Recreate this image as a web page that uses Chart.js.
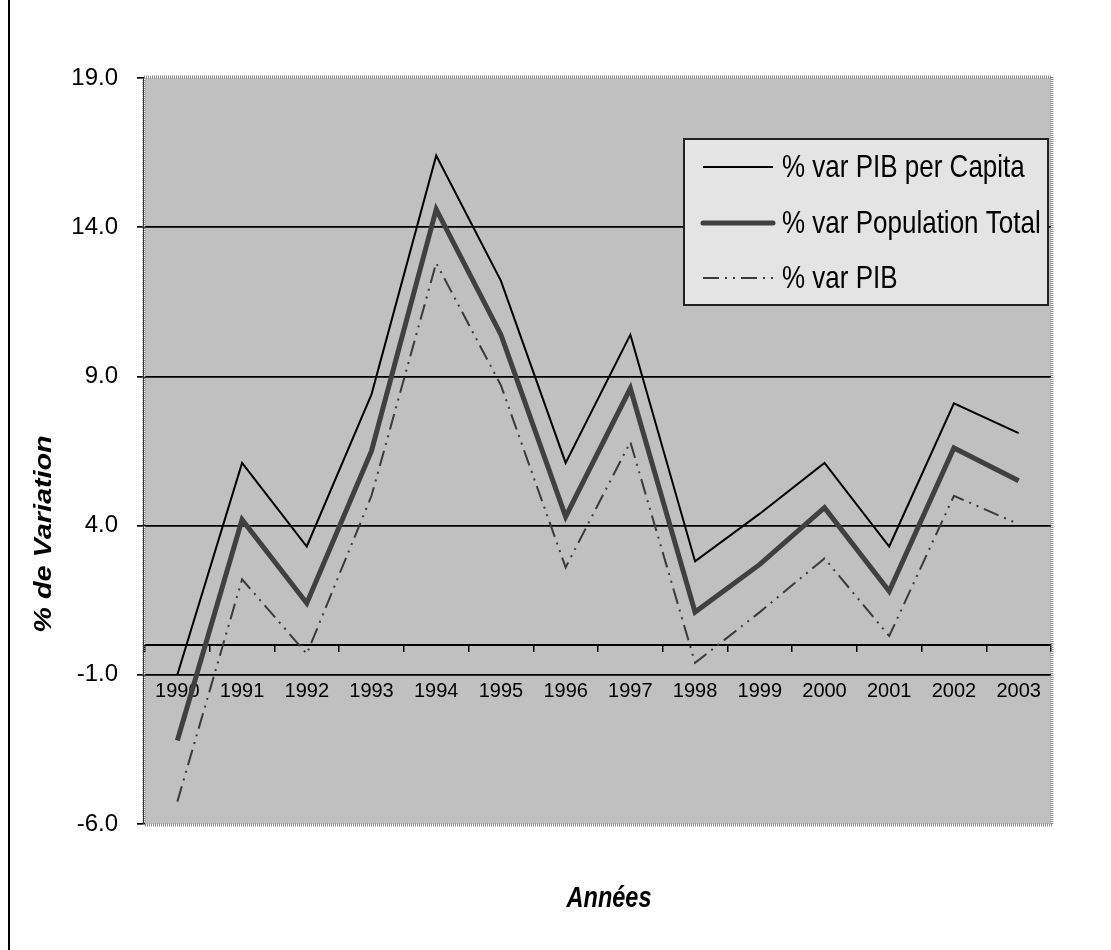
<!DOCTYPE html>
<html>
<head>
<meta charset="utf-8">
<script src="https://cdn.jsdelivr.net/npm/chart.js@4.4.1/dist/chart.umd.min.js"></script>
<style>
  html, body { margin: 0; padding: 0; background: #ffffff; }
  #wrap { width: 1111px; height: 950px; }
</style>
</head>
<body>
<div id="wrap"><canvas id="c" width="1111" height="950"></canvas></div>
<script>
// Annual % variation, 1990-2003
const years = ['1990', '1991', '1992', '1993', '1994', '1995', '1996', '1997', '1998', '1999', '2000', '2001', '2002', '2003'];
const pibPerCapita    = [-1.0, 6.1, 3.3, 8.4, 16.4, 12.2, 6.1, 10.4, 2.8, 4.4, 6.1, 3.3, 8.1, 7.1];
const populationTotal = [-3.2, 4.2, 1.4, 6.5, 14.6, 10.4, 4.3, 8.6, 1.1, 2.7, 4.6, 1.8, 6.6, 5.5];
const pib             = [-5.25, 2.2, -0.3, 5.0, 12.8, 8.7, 2.6, 6.8, -0.6, 1.1, 2.9, 0.3, 5.0, 4.05];
const yTicks = [-6, -1, 4, 9, 14, 19];
const seriesLabels = ['% var PIB per Capita', '% var Population Total', '% var PIB'];

const SANS = '"Liberation Sans", Arial, sans-serif';

// draws text with a vertical stretch, giving the tall glyphs of the original rendering
function tallText(ctx, text, x, y, font, stretch, align) {
  ctx.save();
  ctx.font = font;
  ctx.textAlign = align || 'left';
  ctx.textBaseline = 'middle';
  ctx.translate(x, y);
  ctx.scale(1, stretch);
  ctx.fillText(text, 0, 0);
  ctx.restore();
}

const framePlugin = {
  id: 'frame',
  beforeDraw(chart) {
    const { ctx, chartArea: a } = chart;
    ctx.save();
    ctx.fillStyle = '#ffffff';
    ctx.fillRect(0, 0, chart.width, chart.height);
    ctx.fillStyle = '#c0c0c0';
    ctx.fillRect(a.left, a.top, a.right - a.left, a.bottom - a.top);
    // outer left rule of the sheet
    ctx.strokeStyle = '#000';
    ctx.lineWidth = 2;
    ctx.beginPath();
    ctx.moveTo(9, 0);
    ctx.lineTo(9, chart.height);
    ctx.stroke();
    ctx.restore();
  },
  afterDraw(chart) {
    const { ctx, chartArea: a } = chart;
    ctx.save();
    // dotted plot-area frame
    ctx.strokeStyle = '#8a8a8a';
    ctx.lineWidth = 3;
    ctx.setLineDash([1, 1]);
    ctx.strokeRect(a.left - 1, a.top - 1, a.right - a.left + 2, a.bottom - a.top + 2);
    ctx.setLineDash([]);
    ctx.strokeStyle = '#333';
    ctx.lineWidth = 1;
    ctx.beginPath();
    ctx.moveTo(a.left - 1.5, a.top);
    ctx.lineTo(a.left - 1.5, a.bottom);
    ctx.stroke();

    // legend box
    const bx = a.right - 367, by = a.top + 61, bw = 364, bh = 166;
    ctx.fillStyle = '#e4e4e4';
    ctx.fillRect(bx, by, bw, bh);
    ctx.strokeStyle = '#222';
    ctx.lineWidth = 2;
    ctx.strokeRect(bx, by, bw, bh);
    const rowY = [28, 84, 139];
    chart.data.datasets.forEach((ds, i) => {
      const ly = by + rowY[i];
      ctx.save();
      ctx.strokeStyle = ds.borderColor;
      ctx.lineWidth = ds.borderWidth;
      ctx.lineCap = ds.borderWidth > 3 ? 'round' : 'butt';
      ctx.setLineDash(ds.borderDash || []);
      ctx.beginPath();
      ctx.moveTo(bx + 19, ly);
      ctx.lineTo(bx + 89, ly);
      ctx.stroke();
      ctx.restore();
      ctx.fillStyle = '#000';
      tallText(ctx, ds.label, bx + 98, ly + 1, '26px ' + SANS, 1.22, 'left');
    });

    // axis titles
    ctx.fillStyle = '#000';
    ctx.save();
    ctx.font = 'italic bold 24px ' + SANS;
    ctx.textAlign = 'center';
    ctx.textBaseline = 'middle';
    ctx.translate(44, 534);
    ctx.rotate(-Math.PI / 2);
    ctx.scale(1.2, 1);
    ctx.fillText('% de Variation', 0, 0);
    ctx.restore();
    tallText(ctx, 'Années', (a.left + a.right) / 2 + 11, 899, 'italic bold 23.5px ' + SANS, 1.25, 'center');
    ctx.restore();
  }
};

const lineCommon = { tension: 0, pointRadius: 0, pointHoverRadius: 0, fill: false, borderJoinStyle: 'miter', borderCapStyle: 'butt', xAxisID: 'x', yAxisID: 'y' };

new Chart(document.getElementById('c'), {
  type: 'line',
  data: {
    labels: years,
    datasets: [
      Object.assign({ label: seriesLabels[0], data: pibPerCapita, borderColor: '#000000', borderWidth: 2 }, lineCommon),
      Object.assign({ label: seriesLabels[1], data: populationTotal, borderColor: '#404040', borderWidth: 5 }, lineCommon),
      Object.assign({ label: seriesLabels[2], data: pib, borderColor: '#3a3a3a', borderWidth: 2, borderDash: [16, 6, 2, 6, 2, 6] }, lineCommon)
    ]
  },
  options: {
    responsive: false,
    animation: false,
    devicePixelRatio: 1,
    layout: { padding: { left: 0, top: 78, right: 60, bottom: 126 } },
    plugins: { legend: { display: false }, tooltip: { enabled: false } },
    scales: {
      y: {
        min: -6,
        max: 19,
        afterBuildTicks(scale) { scale.ticks = yTicks.map(v => ({ value: v })); },
        afterFit(scale) { scale.width = 145; },
        border: { display: false },
        grid: {
          color: c => (c.tick && (c.tick.value === 19 || c.tick.value === -6)) ? 'rgba(0,0,0,0)' : '#000',
          lineWidth: 1.7,
          tickColor: '#000',
          tickLength: 8,
          drawTicks: true
        },
        ticks: {
          padding: 19,
          color: '#000',
          font: { family: SANS, size: 24 },
          callback: v => Number(v).toFixed(1)
        }
      },
      x: {
        type: 'category',
        axis: 'x',
        position: { y: -1 },
        offset: true,
        grid: { display: false },
        border: { display: false },
        ticks: {
          padding: -3,
          color: '#000',
          maxRotation: 0,
          autoSkip: false,
          font: { family: SANS, size: 20 }
        }
      },
      xAxis0: {
        type: 'category',
        axis: 'x',
        position: { y: 0 },
        offset: true,
        grid: { display: true, drawOnChartArea: false, drawTicks: true, tickLength: 6, tickColor: '#000', color: '#000', offset: true, lineWidth: 1.5 },
        border: { display: true, color: '#000', width: 2 },
        ticks: { display: false, autoSkip: false }
      }
    }
  },
  plugins: [framePlugin]
});
</script>
</body>
</html>
